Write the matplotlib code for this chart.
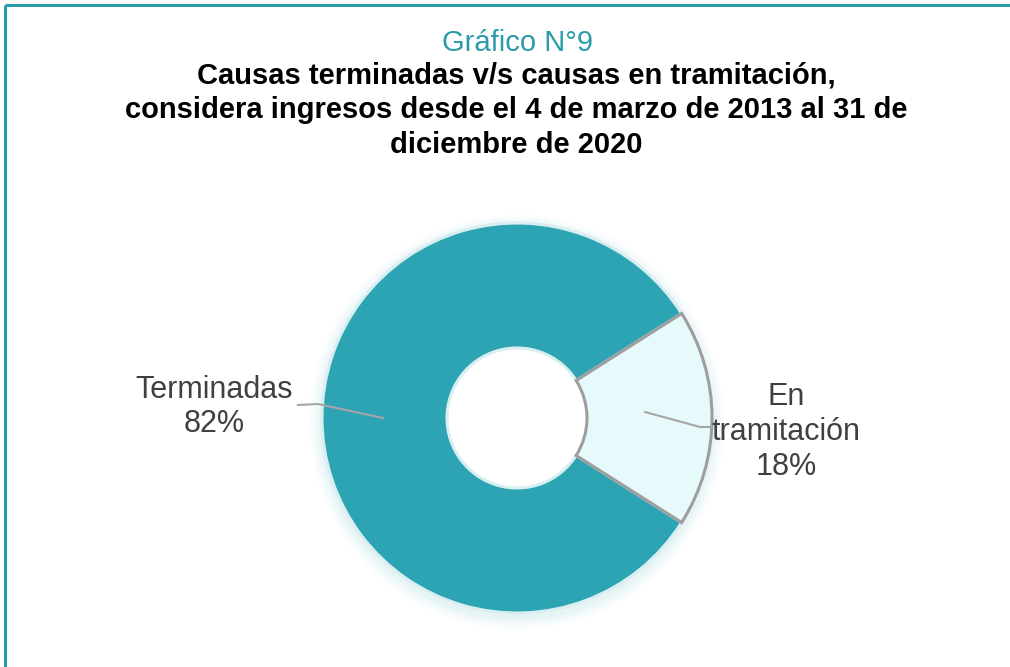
import matplotlib
matplotlib.use("Agg")
import matplotlib.pyplot as plt
from matplotlib.patches import Circle

categories = ["Terminadas", "En\ntramitación"]
values = [82, 18]
pct_labels = ["82%", "18%"]
colors = ["#2DA4B3", "#E6FAFC"]

plt.rcParams['font.family'] = ['Liberation Sans', 'DejaVu Sans']

W, H = 1010, 667
fig = plt.figure(figsize=(W / 100, H / 100), dpi=100)
ax = fig.add_axes([0, 0, 1, 1])
ax.set_xlim(0, W)
ax.set_ylim(0, H)
ax.set_aspect('equal')
ax.axis('off')

# frame
ax.plot([4.5, 4.5], [0, H - 4.5], color="#2A9BAA", lw=2.2, solid_capstyle='butt')
ax.plot([4.5, W], [H - 4.5, H - 4.5], color="#2A9BAA", lw=2.2, solid_capstyle='butt')

# titles
ax.text(517, H - 43, "Gráfico N°9", ha='center', va='center', fontsize=21, color="#2A9BAA")
title = ("Causas terminadas v/s causas en tramitación,\n"
         "considera ingresos desde el 4 de marzo de 2013 al 31 de\n"
         "diciembre de 2020")
ax.text(516, H - 110, title, ha='center', va='center', fontsize=21, fontweight='bold',
        color='black', linespacing=1.3)

cx, cy = 517, H - 418
R = 195
width = 125

# soft glow behind donut
for i, a in enumerate([0.04, 0.05, 0.06, 0.08]):
    ax.add_patch(Circle((cx, cy - 4), R + 12 - 3 * i, color="#8FD3DC", alpha=a, lw=0, zorder=1))
ax.add_patch(Circle((cx, cy), R - width, color="white", lw=0, zorder=2))

wedges, _ = ax.pie(values, colors=colors, startangle=32.4, counterclock=True,
                   center=(cx, cy), radius=R, frame=True,
                   wedgeprops=dict(width=width, linewidth=2.2, zorder=3))
wedges[0].set_edgecolor("#D9EEF1")
wedges[1].set_edgecolor("#9E9E9E")
ax.set_xlim(0, W)
ax.set_ylim(0, H)
ax.axis('off')

# leader lines
ax.plot([298, 318, 383], [H - 405, H - 404, H - 418], color="#A6A6A6", lw=1.5, zorder=5)
ax.plot([645, 700, 712], [H - 412, H - 427, H - 427], color="#A6A6A6", lw=1.5, zorder=5)

ax.text(214, H - 407, categories[0] + "\n" + pct_labels[0], ha='center', va='center',
        fontsize=22, color="#404040", linespacing=1.2)
ax.text(786, H - 432, categories[1] + "\n" + pct_labels[1], ha='center', va='center',
        fontsize=22, color="#404040", linespacing=1.2)

fig.savefig("out.png", dpi=100, facecolor='white')
